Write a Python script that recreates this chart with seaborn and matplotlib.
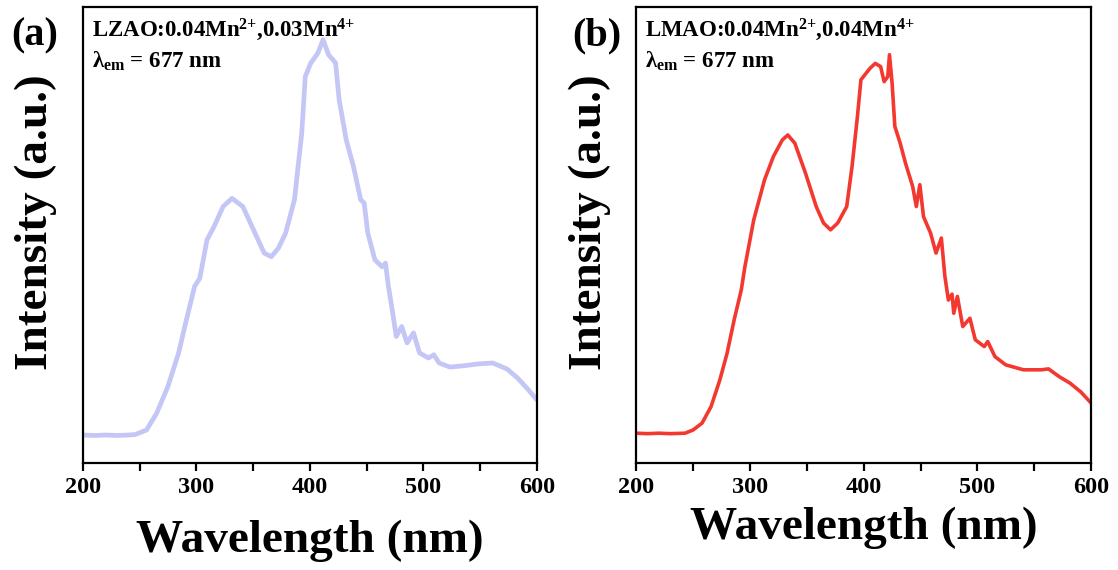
import pandas as pd
import seaborn as sns
import matplotlib.pyplot as plt

# panel (a) LZAO excitation spectrum
wl_a = [200, 210, 220, 230, 240, 246, 256, 265, 274.8, 284.2, 290.5, 298.4, 303, 309.3, 315.5,
        323.5, 331.3, 340.9, 350.3, 359.7, 366, 372.3, 378.6, 386.4, 392.8, 395.9, 400.6,
        406.9, 411.6, 416.4, 422.6, 425.8, 432, 438.4, 444.7, 447.8, 451, 457.3, 463.6,
        466.6, 469, 473, 476.1, 480.9, 485.6, 491.3, 496.6, 504.5, 509.2, 513.9, 523.3,
        535.9, 548.4, 561, 573.6, 583, 592.6, 600]
int_a = [0.061, 0.060, 0.061, 0.060, 0.061, 0.062, 0.072, 0.109, 0.167, 0.24, 0.307, 0.387,
         0.405, 0.489, 0.518, 0.562, 0.58, 0.562, 0.511, 0.46, 0.452, 0.471, 0.504, 0.577,
         0.723, 0.847, 0.876, 0.898, 0.928, 0.895, 0.877, 0.796, 0.708, 0.65, 0.577, 0.57,
         0.504, 0.445, 0.43, 0.438, 0.39, 0.328, 0.277, 0.299, 0.263, 0.285, 0.241, 0.23,
         0.237, 0.219, 0.21, 0.213, 0.217, 0.219, 0.206, 0.186, 0.16, 0.138]

# panel (b) LMAO excitation spectrum
wl_b = [200, 210, 220, 230, 243, 250, 257.9, 265.8, 273.6, 279.9, 286.2, 292.4, 295.6, 303.4,
        312.9, 320.7, 328.5, 333.3, 339.5, 348.9, 358.3, 364.7, 370.9, 377.2, 385.1, 389.8,
        394.5, 397.6, 405.5, 410.2, 414.9, 418, 421.2, 422.7, 425, 427.4, 432.1, 436.8,
        443.1, 446.3, 449.4, 452.6, 458.8, 463.6, 468.3, 471.4, 474.5, 477.7, 479.2, 482.4,
        487.1, 493.4, 498.1, 506, 509.1, 515.4, 524.8, 540.5, 556.2, 562.5, 571.9, 581.3,
        590.7, 600]
int_b = [0.065, 0.064, 0.065, 0.064, 0.065, 0.072, 0.087, 0.123, 0.182, 0.24, 0.314, 0.379,
         0.43, 0.533, 0.621, 0.672, 0.708, 0.719, 0.701, 0.635, 0.562, 0.526, 0.511, 0.526,
         0.562, 0.65, 0.759, 0.84, 0.865, 0.876, 0.869, 0.836, 0.847, 0.895, 0.833, 0.738,
         0.701, 0.657, 0.606, 0.562, 0.61, 0.54, 0.504, 0.46, 0.493, 0.409, 0.357, 0.37,
         0.328, 0.365, 0.299, 0.317, 0.27, 0.255, 0.266, 0.233, 0.215, 0.204, 0.204, 0.206,
         0.189, 0.175, 0.156, 0.131]

labels = ["(a)", "(b)"]
samples = [r"LZAO:0.04Mn$^{\text{2+}}$,0.03Mn$^{\text{4+}}$",
           r"LMAO:0.04Mn$^{\text{2+}}$,0.04Mn$^{\text{4+}}$"]
colors = ["#c4c6f5", "#f3382f"]

sns.set_style("ticks")
plt.rcParams["font.family"] = ["Liberation Serif", "DejaVu Serif"]
plt.rcParams["font.weight"] = "bold"
plt.rcParams["text.color"] = "black"
plt.rcParams["axes.labelcolor"] = "black"
plt.rcParams["xtick.color"] = "black"
plt.rcParams["axes.edgecolor"] = "black"
plt.rcParams["mathtext.fontset"] = "custom"
plt.rcParams["mathtext.rm"] = "Liberation Serif:bold"
plt.rcParams["mathtext.bf"] = "Liberation Serif:bold"
plt.rcParams["mathtext.it"] = "Liberation Serif:bold"

fig = plt.figure(figsize=(11.18, 5.70), dpi=100)
ax_a = fig.add_axes([0.0742, 0.188, 0.406, 0.8])
ax_b = fig.add_axes([0.569, 0.188, 0.407, 0.8])

df_a = pd.DataFrame({"wl": wl_a, "I": int_a})
df_b = pd.DataFrame({"wl": wl_b, "I": int_b})

sns.lineplot(data=df_a, x="wl", y="I", ax=ax_a, color=colors[0], lw=3.4, estimator=None)
sns.lineplot(data=df_b, x="wl", y="I", ax=ax_b, color=colors[1], lw=2.6, estimator=None)

xlab_y = [-0.125, -0.096]
ylab_x = [-0.057, -0.055]
for i, ax in enumerate([ax_a, ax_b]):
    ax.set_xlim(200, 600)
    ax.set_ylim(0, 1)
    ax.set_xticks([200, 300, 400, 500, 600])
    ax.set_xticks([250, 350, 450, 550], minor=True)
    ax.set_yticks([])
    ax.tick_params(axis="x", which="both", direction="out", length=6, width=1.6,
                   labelsize=17.5, pad=4)
    for lab in ax.get_xticklabels():
        lab.set_fontweight("bold")
    for s in ax.spines.values():
        s.set_linewidth(1.6)
        s.set_visible(True)
    ax.set_xlabel("Wavelength (nm)", fontsize=34, fontweight="bold")
    ax.set_ylabel("Intensity (a.u.)", fontsize=34, fontweight="bold")
    ax.xaxis.set_label_coords(0.5, xlab_y[i])
    ax.yaxis.set_label_coords(ylab_x[i], 0.528)
    ax.text(0.02, 0.934, samples[i], transform=ax.transAxes, fontsize=16.5,
            fontweight="bold", va="baseline", ha="left")
    ax.text(0.02, 0.866, r"$\lambda_{\text{em}}$ = 677 nm", transform=ax.transAxes,
            fontsize=16.5, fontweight="bold", va="baseline", ha="left")

fig.text(35 / 1118, 1 - 36 / 570, labels[0], fontsize=29, fontweight="bold",
         ha="center", va="center")
fig.text(597 / 1118, 1 - 36 / 570, labels[1], fontsize=29, fontweight="bold",
         ha="center", va="center")

fig.savefig("out.png", dpi=100)
